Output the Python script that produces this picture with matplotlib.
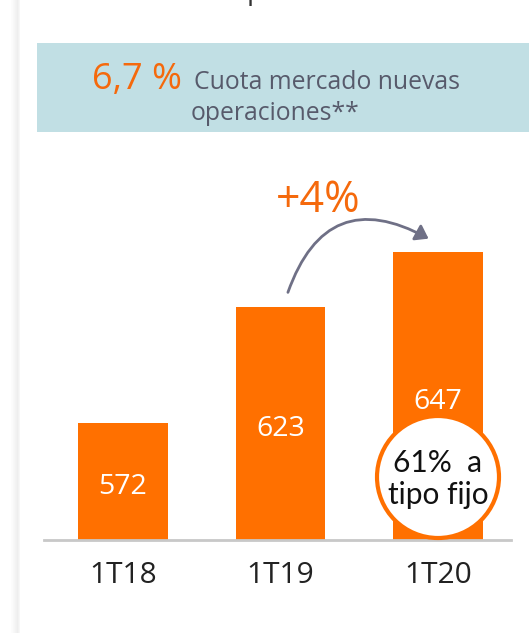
import matplotlib
matplotlib.use("Agg")
import matplotlib.pyplot as plt
from matplotlib.patches import Rectangle, Ellipse, FancyArrowPatch

categories = ["1T18", "1T19", "1T20"]
values = [572, 623, 647]
value_labels = ["572", "623", "647"]
share_value = "6,7 %"
share_text_1 = "Cuota mercado nuevas"
share_text_2 = "operaciones**"
growth_label = "+4%"
fixed_rate_text = "61%  a\ntipo fijo"

W, H = 529, 633
ORANGE = "#ff7000"
ORANGE_TXT = "#f5690c"
BOX = "#c1dfe4"
GRAY_TXT = "#575a6b"
ARROW = "#6f7086"

plt.rcParams['font.family'] = ['Open Sans', 'DejaVu Sans']

fig = plt.figure(figsize=(W / 100, H / 100), dpi=100)
fig.patch.set_facecolor("white")

def fx(x):
    return x / W

def fy(y):
    return 1 - y / H

# left shadow edge
for i, a in enumerate([0.02, 0.03, 0.05, 0.07, 0.09, 0.11, 0.13, 0.10, 0.06]):
    fig.patches.append(Rectangle((fx(11 + i), 0), 1 / W, 1, transform=fig.transFigure,
                                 facecolor="#808080", alpha=a, edgecolor="none"))

# partial title descender at top (title itself lies above the visible area)
fig.text(fx(255), fy(-1), "p", ha="center", va="baseline", fontsize=20, color="#333333")

# info box
fig.patches.append(Rectangle((fx(37), fy(132)), fx(529 - 37), (132 - 43) / H,
                             transform=fig.transFigure, facecolor=BOX, edgecolor="none"))
fig.text(fx(92), fy(89), share_value, ha="left", va="baseline", fontsize=26, color=ORANGE_TXT)
fig.text(fx(194), fy(89), share_text_1, ha="left", va="baseline", fontsize=17.8, color=GRAY_TXT)
fig.text(fx(275), fy(120), share_text_2, ha="center", va="baseline", fontsize=17.8, color=GRAY_TXT)

# axes: pixel box x 44..511, y 140..540
ax = fig.add_axes([fx(44), fy(540), fx(511 - 44), (540 - 140) / H])
ymin = 520.7
ymax = ymin + 400 / 2.28
x = list(range(len(categories)))
ax.bar(x, values, width=0.571, color=ORANGE, zorder=2)
ax.set_ylim(ymin, ymax)
ax.set_xlim(-0.5016, 2.4635)
for s in ["top", "right", "left"]:
    ax.spines[s].set_visible(False)
ax.spines["bottom"].set_color("#c8c8c8")
ax.spines["bottom"].set_linewidth(2)
ax.set_yticks([])
ax.set_xticks(x)
ax.set_xticklabels(categories, fontsize=21.5, color="#222222")
ax.tick_params(axis="x", length=0, pad=15)
ax.patch.set_alpha(0)

for xi, v, lab in zip(x, values, value_labels):
    ax.text(xi, (ymin + v) / 2 - 2.6, lab, ha="center", va="center", fontsize=20.5,
            color="white", zorder=3)

# growth label and arrow
fig.text(fx(318), fy(201), growth_label, ha="center", va="center", fontsize=31, color=ORANGE_TXT)
arr = FancyArrowPatch((fx(287), fy(295)), (fx(431), fy(240)), transform=fig.transFigure,
                      connectionstyle="arc3,rad=-0.6", arrowstyle="-|>,head_length=5,head_width=3.5",
                      color=ARROW, linewidth=2.0, mutation_scale=1.5)
fig.patches.append(arr)

# fixed-rate circle
circ = Ellipse((fx(438), fy(477)), 122 / W, 122 / H, transform=fig.transFigure, facecolor="white",
               edgecolor=ORANGE, linewidth=3, zorder=5)
fig.patches.append(circ)
fig.text(fx(438), fy(479), fixed_rate_text, ha="center", va="center", fontsize=21.5,
         color="#111111", family=["Lato", "DejaVu Sans"], linespacing=1.15, zorder=6)

fig.savefig("out.png", dpi=100, facecolor="white")
